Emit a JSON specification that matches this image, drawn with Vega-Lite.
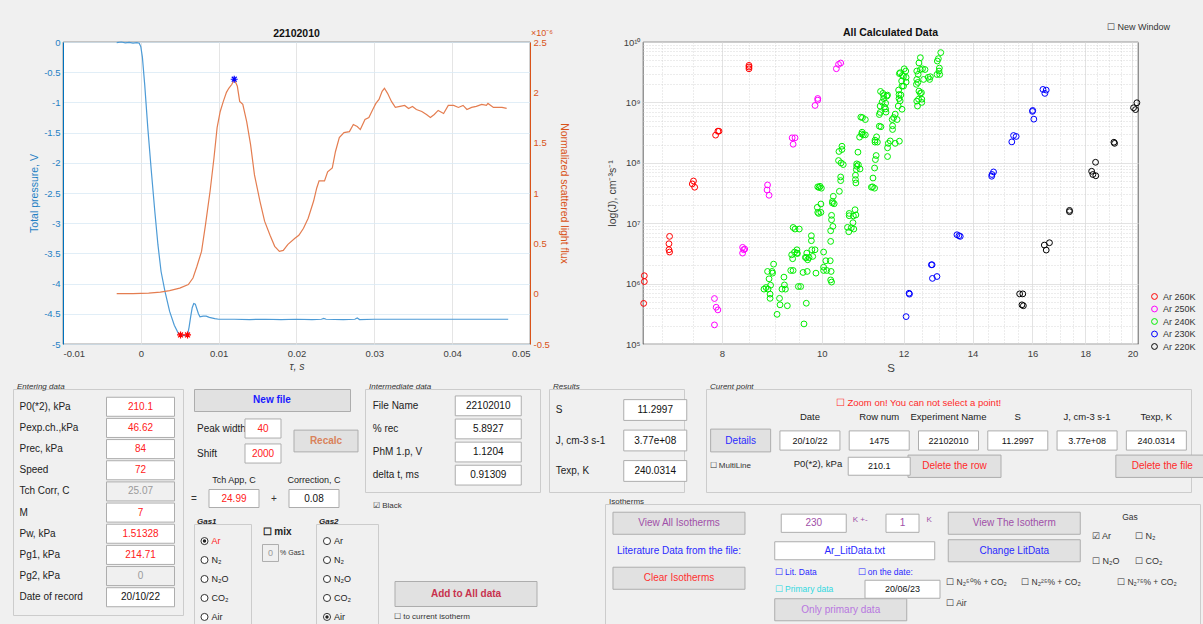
{
"$schema": "https://vega.github.io/schema/vega-lite/v6.json",
"background": "#f0f0f0",
"padding": {"left": 12, "top": 22, "right": 0, "bottom": 0},
"config": {
  "font": "Liberation Sans",
  "view": {"stroke": null},
  "point": {"opacity": 1},
  "axis": {"ticks": false, "domain": false, "labelFontSize": 9.5, "titleFontSize": 10.5, "titleFontWeight": "normal", "labelColor": "#404040", "titleColor": "#404040", "gridColor": "#dfdfdf", "gridWidth": 0.8},
  "title": {"font": "Liberation Sans", "fontSize": 10.5, "fontWeight": "bold", "color": "#111111"}
},
"datasets": {
  "pressure": [{"t":-0.0031,"p":-0.01},{"t":-0.0025,"p":0.0},{"t":-0.002,"p":-0.015},{"t":-0.0015,"p":-0.005},{"t":-0.001,"p":-0.02},{"t":-0.0005,"p":-0.01},{"t":-0.0002,"p":-0.02},{"t":0.0,"p":-0.08},{"t":0.0002,"p":-0.25},{"t":0.0005,"p":-0.71},{"t":0.0009,"p":-1.43},{"t":0.00135,"p":-2.14},{"t":0.0018,"p":-2.81},{"t":0.0022,"p":-3.36},{"t":0.0026,"p":-3.8},{"t":0.0031,"p":-4.13},{"t":0.0037,"p":-4.46},{"t":0.0043,"p":-4.69},{"t":0.0048,"p":-4.82},{"t":0.0051,"p":-4.85},{"t":0.0056,"p":-4.86},{"t":0.006,"p":-4.85},{"t":0.0062,"p":-4.72},{"t":0.0064,"p":-4.55},{"t":0.0066,"p":-4.4},{"t":0.0068,"p":-4.33},{"t":0.007,"p":-4.34},{"t":0.0072,"p":-4.42},{"t":0.0074,"p":-4.5},{"t":0.0076,"p":-4.55},{"t":0.008,"p":-4.54},{"t":0.0084,"p":-4.54},{"t":0.0088,"p":-4.56},{"t":0.0095,"p":-4.58},{"t":0.01,"p":-4.59},{"t":0.012,"p":-4.59},{"t":0.014,"p":-4.595},{"t":0.016,"p":-4.59},{"t":0.018,"p":-4.595},{"t":0.02,"p":-4.59},{"t":0.022,"p":-4.595},{"t":0.0232,"p":-4.59},{"t":0.0235,"p":-4.575},{"t":0.0238,"p":-4.59},{"t":0.026,"p":-4.595},{"t":0.0275,"p":-4.59},{"t":0.0278,"p":-4.57},{"t":0.0281,"p":-4.595},{"t":0.03,"p":-4.59},{"t":0.035,"p":-4.59},{"t":0.04,"p":-4.59},{"t":0.045,"p":-4.59},{"t":0.0472,"p":-4.59}],
  "flux": [{"t":-0.0031,"f":0.0},{"t":-0.001,"f":0.0},{"t":0.001,"f":0.005},{"t":0.0025,"f":0.015},{"t":0.0037,"f":0.03},{"t":0.005,"f":0.055},{"t":0.0061,"f":0.09},{"t":0.0067,"f":0.155},{"t":0.0072,"f":0.27},{"t":0.0078,"f":0.42},{"t":0.0083,"f":0.68},{"t":0.0089,"f":1.02},{"t":0.0094,"f":1.35},{"t":0.0098,"f":1.65},{"t":0.0102,"f":1.81},{"t":0.0106,"f":1.91},{"t":0.011,"f":2.0},{"t":0.0113,"f":2.04},{"t":0.0117,"f":2.08},{"t":0.012,"f":2.13},{"t":0.0124,"f":2.06},{"t":0.0127,"f":1.91},{"t":0.0131,"f":1.88},{"t":0.0136,"f":1.71},{"t":0.0141,"f":1.48},{"t":0.0146,"f":1.18},{"t":0.0153,"f":0.92},{"t":0.0159,"f":0.72},{"t":0.0166,"f":0.58},{"t":0.0172,"f":0.47},{"t":0.0178,"f":0.42},{"t":0.0183,"f":0.43},{"t":0.0189,"f":0.49},{"t":0.0198,"f":0.55},{"t":0.0203,"f":0.58},{"t":0.0209,"f":0.65},{"t":0.0215,"f":0.75},{"t":0.0222,"f":0.92},{"t":0.0226,"f":1.05},{"t":0.0229,"f":1.12},{"t":0.0236,"f":1.12},{"t":0.024,"f":1.21},{"t":0.0246,"f":1.25},{"t":0.025,"f":1.41},{"t":0.0255,"f":1.55},{"t":0.0261,"f":1.6},{"t":0.0268,"f":1.61},{"t":0.0273,"f":1.68},{"t":0.0278,"f":1.66},{"t":0.0282,"f":1.63},{"t":0.0288,"f":1.73},{"t":0.0293,"f":1.75},{"t":0.0298,"f":1.83},{"t":0.0302,"f":1.89},{"t":0.0306,"f":1.93},{"t":0.031,"f":2.01},{"t":0.0313,"f":2.04},{"t":0.0317,"f":1.99},{"t":0.0322,"f":1.91},{"t":0.0327,"f":1.85},{"t":0.0333,"f":1.86},{"t":0.0339,"f":1.87},{"t":0.0344,"f":1.84},{"t":0.0349,"f":1.86},{"t":0.0354,"f":1.83},{"t":0.0361,"f":1.81},{"t":0.0367,"f":1.78},{"t":0.0372,"f":1.75},{"t":0.0377,"f":1.78},{"t":0.0382,"f":1.82},{"t":0.0389,"f":1.79},{"t":0.0395,"f":1.87},{"t":0.0402,"f":1.87},{"t":0.0408,"f":1.85},{"t":0.0414,"f":1.87},{"t":0.0419,"f":1.83},{"t":0.0425,"f":1.85},{"t":0.0431,"f":1.86},{"t":0.0438,"f":1.88},{"t":0.0444,"f":1.87},{"t":0.0446,"f":1.89},{"t":0.0453,"f":1.85},{"t":0.0459,"f":1.85},{"t":0.0464,"f":1.85},{"t":0.047,"f":1.84}],
  "rates": [
{"S":6.72,"J":4.7e5,"series":"Ar 260K"},{"S":6.73,"J":1.08e6,"series":"Ar 260K"},{"S":6.73,"J":1.35e6,"series":"Ar 260K"},{"S":7.11,"J":4.57e6,"series":"Ar 260K"},{"S":7.11,"J":3.64e6,"series":"Ar 260K"},{"S":7.12,"J":3.33e6,"series":"Ar 260K"},{"S":7.12,"J":6.05e6,"series":"Ar 260K"},{"S":7.49,"J":4.47e7,"series":"Ar 260K"},{"S":7.51,"J":5.0e7,"series":"Ar 260K"},{"S":7.53,"J":3.94e7,"series":"Ar 260K"},{"S":7.89,"J":2.87e8,"series":"Ar 260K"},{"S":7.93,"J":3.34e8,"series":"Ar 260K"},{"S":7.95,"J":3.34e8,"series":"Ar 260K"},{"S":8.5,"J":3.85e9,"series":"Ar 260K"},{"S":8.5,"J":3.6e9,"series":"Ar 260K"},{"S":8.5,"J":4.1e9,"series":"Ar 260K"},
{"S":7.87,"J":5.66e5,"series":"Ar 250K"},{"S":7.9,"J":4.06e5,"series":"Ar 250K"},{"S":7.93,"J":3.67e5,"series":"Ar 250K"},{"S":7.87,"J":2.07e5,"series":"Ar 250K"},{"S":8.38,"J":3.98e6,"series":"Ar 250K"},{"S":8.4,"J":3.64e6,"series":"Ar 250K"},{"S":8.38,"J":3.2e6,"series":"Ar 250K"},{"S":8.42,"J":3.73e6,"series":"Ar 250K"},{"S":8.86,"J":4.3e7,"series":"Ar 250K"},{"S":8.85,"J":3.55e7,"series":"Ar 250K"},{"S":8.89,"J":2.9e7,"series":"Ar 250K"},{"S":9.36,"J":2.59e8,"series":"Ar 250K"},{"S":9.42,"J":2.59e8,"series":"Ar 250K"},{"S":9.38,"J":2.03e8,"series":"Ar 250K"},{"S":9.85,"J":8.9e8,"series":"Ar 250K"},{"S":9.91,"J":1.09e9,"series":"Ar 250K"},{"S":9.91,"J":1.16e9,"series":"Ar 250K"},{"S":10.33,"J":3.61e9,"series":"Ar 250K"},{"S":10.38,"J":4.26e9,"series":"Ar 250K"},{"S":10.43,"J":4.49e9,"series":"Ar 250K"},
{"S":8.79,"J":8.1e5,"series":"Ar 240K"},{"S":8.83,"J":8.6e5,"series":"Ar 240K"},{"S":8.87,"J":8.1e5,"series":"Ar 240K"},{"S":8.89,"J":1.2e6,"series":"Ar 240K"},{"S":8.92,"J":9.4e5,"series":"Ar 240K"},{"S":8.91,"J":6.7e5,"series":"Ar 240K"},{"S":8.91,"J":5.7e5,"series":"Ar 240K"},{"S":8.86,"J":1.59e6,"series":"Ar 240K"},{"S":8.95,"J":1.59e6,"series":"Ar 240K"},{"S":8.96,"J":1.49e6,"series":"Ar 240K"},{"S":8.98,"J":2.1e6,"series":"Ar 240K"},{"S":9.05,"J":3.1e5,"series":"Ar 240K"},{"S":9.1,"J":5.7e5,"series":"Ar 240K"},{"S":9.11,"J":4.45e5,"series":"Ar 240K"},{"S":9.15,"J":8.1e5,"series":"Ar 240K"},{"S":9.19,"J":1.28e6,"series":"Ar 240K"},{"S":9.2,"J":9.5e5,"series":"Ar 240K"},{"S":9.22,"J":8.1e5,"series":"Ar 240K"},{"S":9.26,"J":4.3e5,"series":"Ar 240K"},{"S":9.33,"J":1.65e6,"series":"Ar 240K"},{"S":9.38,"J":1.65e6,"series":"Ar 240K"},{"S":9.35,"J":3.0e6,"series":"Ar 240K"},{"S":9.37,"J":2.58e6,"series":"Ar 240K"},{"S":9.41,"J":3.33e6,"series":"Ar 240K"},{"S":9.46,"J":3.2e6,"series":"Ar 240K"},{"S":9.47,"J":3.15e6,"series":"Ar 240K"},{"S":9.42,"J":8.0e6,"series":"Ar 240K"},{"S":9.38,"J":8.5e6,"series":"Ar 240K"},{"S":9.51,"J":8.0e6,"series":"Ar 240K"},{"S":9.46,"J":3.63e6,"series":"Ar 240K"},{"S":9.49,"J":8.95e5,"series":"Ar 240K"},{"S":9.54,"J":8.95e5,"series":"Ar 240K"},{"S":9.59,"J":1.53e6,"series":"Ar 240K"},{"S":9.61,"J":2.15e5,"series":"Ar 240K"},{"S":9.64,"J":2.71e6,"series":"Ar 240K"},{"S":9.66,"J":2.7e6,"series":"Ar 240K"},{"S":9.67,"J":3.2e6,"series":"Ar 240K"},{"S":9.68,"J":1.59e6,"series":"Ar 240K"},{"S":9.69,"J":2.48e6,"series":"Ar 240K"},{"S":9.72,"J":2.7e6,"series":"Ar 240K"},{"S":9.77,"J":5.13e6,"series":"Ar 240K"},{"S":9.77,"J":6.2e6,"series":"Ar 240K"},{"S":9.78,"J":3.63e6,"series":"Ar 240K"},{"S":9.8,"J":2.82e6,"series":"Ar 240K"},{"S":9.85,"J":3.63e6,"series":"Ar 240K"},{"S":9.87,"J":1.49e6,"series":"Ar 240K"},{"S":9.66,"J":4.73e5,"series":"Ar 240K"},{"S":9.9,"J":1.83e7,"series":"Ar 240K"},{"S":9.91,"J":1.51e7,"series":"Ar 240K"},{"S":9.93,"J":1.45e7,"series":"Ar 240K"},{"S":9.96,"J":4.08e7,"series":"Ar 240K"},{"S":9.94,"J":3.9e7,"series":"Ar 240K"},{"S":9.91,"J":4.0e7,"series":"Ar 240K"},{"S":9.99,"J":3.8e7,"series":"Ar 240K"},{"S":9.98,"J":2.08e7,"series":"Ar 240K"},{"S":9.98,"J":1.51e7,"series":"Ar 240K"},{"S":10.04,"J":1.65e6,"series":"Ar 240K"},{"S":10.04,"J":1.87e6,"series":"Ar 240K"},{"S":10.04,"J":3.33e6,"series":"Ar 240K"},{"S":10.09,"J":2.39e6,"series":"Ar 240K"},{"S":10.11,"J":1.65e6,"series":"Ar 240K"},{"S":10.19,"J":2.39e6,"series":"Ar 240K"},{"S":10.2,"J":7.5e6,"series":"Ar 240K"},{"S":10.22,"J":1.14e7,"series":"Ar 240K"},{"S":10.22,"J":1.35e7,"series":"Ar 240K"},{"S":10.25,"J":8.86e6,"series":"Ar 240K"},{"S":10.24,"J":2.16e7,"series":"Ar 240K"},{"S":10.26,"J":2.79e7,"series":"Ar 240K"},{"S":10.24,"J":2.3e7,"series":"Ar 240K"},{"S":10.28,"J":2.1e7,"series":"Ar 240K"},{"S":10.2,"J":5.0e6,"series":"Ar 240K"},{"S":10.21,"J":1.59e6,"series":"Ar 240K"},{"S":10.2,"J":1.15e6,"series":"Ar 240K"},{"S":10.22,"J":1.06e6,"series":"Ar 240K"},{"S":10.38,"J":1.09e8,"series":"Ar 240K"},{"S":10.4,"J":3.37e7,"series":"Ar 240K"},{"S":10.43,"J":5.07e7,"series":"Ar 240K"},{"S":10.43,"J":5.83e7,"series":"Ar 240K"},{"S":10.44,"J":9.96e7,"series":"Ar 240K"},{"S":10.46,"J":1.66e8,"series":"Ar 240K"},{"S":10.46,"J":1.88e8,"series":"Ar 240K"},{"S":10.49,"J":9.35e7,"series":"Ar 240K"},{"S":10.39,"J":1.54e8,"series":"Ar 240K"},{"S":10.59,"J":8.53e6,"series":"Ar 240K"},{"S":10.62,"J":7.22e6,"series":"Ar 240K"},{"S":10.63,"J":1.45e7,"series":"Ar 240K"},{"S":10.63,"J":1.33e7,"series":"Ar 240K"},{"S":10.68,"J":8.4e6,"series":"Ar 240K"},{"S":10.72,"J":1.02e7,"series":"Ar 240K"},{"S":10.74,"J":8.0e6,"series":"Ar 240K"},{"S":10.73,"J":1.32e7,"series":"Ar 240K"},{"S":10.77,"J":1.67e7,"series":"Ar 240K"},{"S":10.79,"J":1.37e7,"series":"Ar 240K"},{"S":10.78,"J":5.27e7,"series":"Ar 240K"},{"S":10.78,"J":6.22e7,"series":"Ar 240K"},{"S":10.8,"J":7.72e7,"series":"Ar 240K"},{"S":10.81,"J":8.77e7,"series":"Ar 240K"},{"S":10.81,"J":9.6e7,"series":"Ar 240K"},{"S":10.85,"J":9.3e7,"series":"Ar 240K"},{"S":10.89,"J":7.9e7,"series":"Ar 240K"},{"S":10.84,"J":1.5e8,"series":"Ar 240K"},{"S":10.79,"J":4.64e7,"series":"Ar 240K"},{"S":10.88,"J":2.66e8,"series":"Ar 240K"},{"S":10.94,"J":3.21e8,"series":"Ar 240K"},{"S":10.93,"J":3.0e8,"series":"Ar 240K"},{"S":10.97,"J":2.9e8,"series":"Ar 240K"},{"S":10.95,"J":5.6e8,"series":"Ar 240K"},{"S":11.02,"J":5.2e8,"series":"Ar 240K"},{"S":11.02,"J":2.9e8,"series":"Ar 240K"},{"S":10.91,"J":5.7e8,"series":"Ar 240K"},{"S":11.17,"J":3.94e7,"series":"Ar 240K"},{"S":11.2,"J":4.0e7,"series":"Ar 240K"},{"S":11.25,"J":3.8e7,"series":"Ar 240K"},{"S":11.21,"J":5.6e7,"series":"Ar 240K"},{"S":11.25,"J":8.2e7,"series":"Ar 240K"},{"S":11.27,"J":1.13e8,"series":"Ar 240K"},{"S":11.29,"J":1.32e8,"series":"Ar 240K"},{"S":11.26,"J":2.37e8,"series":"Ar 240K"},{"S":11.3,"J":2.69e8,"series":"Ar 240K"},{"S":11.26,"J":2.2e8,"series":"Ar 240K"},{"S":11.32,"J":2.2e8,"series":"Ar 240K"},{"S":11.37,"J":4.04e8,"series":"Ar 240K"},{"S":11.41,"J":3.95e8,"series":"Ar 240K"},{"S":11.39,"J":6.82e8,"series":"Ar 240K"},{"S":11.37,"J":6.3e8,"series":"Ar 240K"},{"S":11.39,"J":8.7e8,"series":"Ar 240K"},{"S":11.44,"J":1.01e9,"series":"Ar 240K"},{"S":11.48,"J":1.16e9,"series":"Ar 240K"},{"S":11.48,"J":1.3e9,"series":"Ar 240K"},{"S":11.4,"J":1.52e9,"series":"Ar 240K"},{"S":11.46,"J":1.41e9,"series":"Ar 240K"},{"S":11.5,"J":8.36e8,"series":"Ar 240K"},{"S":11.53,"J":9.7e8,"series":"Ar 240K"},{"S":11.54,"J":6.9e8,"series":"Ar 240K"},{"S":11.56,"J":1.27e9,"series":"Ar 240K"},{"S":11.58,"J":1.32e9,"series":"Ar 240K"},{"S":11.53,"J":7.8e8,"series":"Ar 240K"},{"S":11.58,"J":1.27e8,"series":"Ar 240K"},{"S":11.58,"J":1.77e8,"series":"Ar 240K"},{"S":11.6,"J":2.1e8,"series":"Ar 240K"},{"S":11.65,"J":2.3e8,"series":"Ar 240K"},{"S":11.71,"J":3.56e8,"series":"Ar 240K"},{"S":11.7,"J":5.2e8,"series":"Ar 240K"},{"S":11.71,"J":4.1e8,"series":"Ar 240K"},{"S":11.74,"J":5.6e8,"series":"Ar 240K"},{"S":11.78,"J":6.4e8,"series":"Ar 240K"},{"S":11.83,"J":5.2e8,"series":"Ar 240K"},{"S":11.86,"J":8.7e8,"series":"Ar 240K"},{"S":11.88,"J":1.16e9,"series":"Ar 240K"},{"S":11.91,"J":1.06e9,"series":"Ar 240K"},{"S":11.93,"J":1.33e9,"series":"Ar 240K"},{"S":11.87,"J":1.6e9,"series":"Ar 240K"},{"S":11.88,"J":1.35e9,"series":"Ar 240K"},{"S":11.96,"J":7.7e8,"series":"Ar 240K"},{"S":11.96,"J":1.86e9,"series":"Ar 240K"},{"S":11.97,"J":2.8e9,"series":"Ar 240K"},{"S":11.91,"J":3.1e9,"series":"Ar 240K"},{"S":11.89,"J":3.0e9,"series":"Ar 240K"},{"S":11.78,"J":2.1e8,"series":"Ar 240K"},{"S":11.89,"J":2.28e8,"series":"Ar 240K"},{"S":11.95,"J":2.26e9,"series":"Ar 240K"},{"S":12.0,"J":1.86e9,"series":"Ar 240K"},{"S":12.02,"J":3.6e9,"series":"Ar 240K"},{"S":12.06,"J":3.3e9,"series":"Ar 240K"},{"S":12.07,"J":2.6e9,"series":"Ar 240K"},{"S":12.07,"J":2.17e9,"series":"Ar 240K"},{"S":12.0,"J":2.7e9,"series":"Ar 240K"},{"S":12.36,"J":3.3e9,"series":"Ar 240K"},{"S":12.4,"J":2.91e9,"series":"Ar 240K"},{"S":12.46,"J":3.5e9,"series":"Ar 240K"},{"S":12.52,"J":3.6e9,"series":"Ar 240K"},{"S":12.59,"J":3.5e9,"series":"Ar 240K"},{"S":12.42,"J":4.5e9,"series":"Ar 240K"},{"S":12.46,"J":5.5e9,"series":"Ar 240K"},{"S":12.36,"J":2.4e9,"series":"Ar 240K"},{"S":12.39,"J":2.14e9,"series":"Ar 240K"},{"S":12.35,"J":1.99e9,"series":"Ar 240K"},{"S":12.36,"J":1.05e9,"series":"Ar 240K"},{"S":12.38,"J":8.7e8,"series":"Ar 240K"},{"S":12.41,"J":1.13e9,"series":"Ar 240K"},{"S":12.42,"J":1.54e9,"series":"Ar 240K"},{"S":12.46,"J":1.41e9,"series":"Ar 240K"},{"S":12.5,"J":1.13e9,"series":"Ar 240K"},{"S":12.5,"J":1.0e9,"series":"Ar 240K"},{"S":12.49,"J":1.45e9,"series":"Ar 240K"},{"S":12.55,"J":2.4e9,"series":"Ar 240K"},{"S":12.68,"J":2.6e9,"series":"Ar 240K"},{"S":12.72,"J":2.4e9,"series":"Ar 240K"},{"S":12.74,"J":2.66e9,"series":"Ar 240K"},{"S":12.94,"J":4.84e9,"series":"Ar 240K"},{"S":12.97,"J":5.3e9,"series":"Ar 240K"},{"S":13.0,"J":3.7e9,"series":"Ar 240K"},{"S":12.99,"J":3.3e9,"series":"Ar 240K"},{"S":13.01,"J":2.9e9,"series":"Ar 240K"},{"S":12.93,"J":2.9e9,"series":"Ar 240K"},{"S":13.04,"J":6.67e9,"series":"Ar 240K"},
{"S":12.07,"J":2.84e5,"series":"Ar 230K"},{"S":12.15,"J":6.93e5,"series":"Ar 230K"},{"S":12.16,"J":6.7e5,"series":"Ar 230K"},{"S":12.77,"J":2.05e6,"series":"Ar 230K"},{"S":12.79,"J":2.05e6,"series":"Ar 230K"},{"S":12.8,"J":1.22e6,"series":"Ar 230K"},{"S":12.93,"J":1.31e6,"series":"Ar 230K"},{"S":13.52,"J":6.44e6,"series":"Ar 230K"},{"S":13.58,"J":6.2e6,"series":"Ar 230K"},{"S":13.62,"J":6.05e6,"series":"Ar 230K"},{"S":14.61,"J":5.99e7,"series":"Ar 230K"},{"S":14.67,"J":7.06e7,"series":"Ar 230K"},{"S":14.62,"J":6.4e7,"series":"Ar 230K"},{"S":15.28,"J":2.22e8,"series":"Ar 230K"},{"S":15.34,"J":2.83e8,"series":"Ar 230K"},{"S":15.43,"J":2.73e8,"series":"Ar 230K"},{"S":16.01,"J":7.36e8,"series":"Ar 230K"},{"S":16.0,"J":7.1e8,"series":"Ar 230K"},{"S":16.05,"J":5.28e8,"series":"Ar 230K"},{"S":16.38,"J":1.64e9,"series":"Ar 230K"},{"S":16.5,"J":1.6e9,"series":"Ar 230K"},{"S":16.45,"J":1.41e9,"series":"Ar 230K"},
{"S":15.55,"J":6.76e5,"series":"Ar 220K"},{"S":15.66,"J":6.76e5,"series":"Ar 220K"},{"S":15.63,"J":4.45e5,"series":"Ar 220K"},{"S":15.68,"J":4.3e5,"series":"Ar 220K"},{"S":16.43,"J":4.34e6,"series":"Ar 220K"},{"S":16.62,"J":4.75e6,"series":"Ar 220K"},{"S":16.5,"J":3.59e6,"series":"Ar 220K"},{"S":17.38,"J":1.63e7,"series":"Ar 220K"},{"S":17.38,"J":1.55e7,"series":"Ar 220K"},{"S":18.26,"J":7.24e7,"series":"Ar 220K"},{"S":18.31,"J":6.4e7,"series":"Ar 220K"},{"S":18.43,"J":6.1e7,"series":"Ar 220K"},{"S":18.42,"J":1.02e8,"series":"Ar 220K"},{"S":19.19,"J":2.19e8,"series":"Ar 220K"},{"S":19.22,"J":2.1e8,"series":"Ar 220K"},{"S":20.05,"J":8.15e8,"series":"Ar 220K"},{"S":20.14,"J":7.6e8,"series":"Ar 220K"},{"S":20.2,"J":9.86e8,"series":"Ar 220K"}
  ]
},
"resolve": {"scale": {"color": "independent"}},
"vconcat": [
 {"hconcat": [
   {"width": 4, "height": 10, "data": {"values": [{"a": 1}]}, "mark": {"type": "text", "text": " "}},
   {"hconcat": [
     {
      "width": 467, "height": 302,
      "title": {"text": "22102010", "offset": -10},
      "view": {"fill": "#ffffff", "stroke": "#262626", "strokeWidth": 0.7},
      "layer": [
        {"layer": [
          {"data": {"name": "pressure"}, "mark": {"type": "line", "color": "#4d9bd6", "strokeWidth": 1.2},
           "encoding": {
             "x": {"field": "t", "type": "quantitative", "title": "τ, s", "scale": {"domain": [-0.01, 0.05], "nice": false},
                   "axis": {"values": [-0.01, 0, 0.01, 0.02, 0.03, 0.04, 0.05], "labelExpr": "replace(format(datum.value, '~g'), '−', '-')", "grid": true, "gridColor": "#dedede", "labelPadding": 4, "titlePadding": 4, "titleFontStyle": "italic"}},
             "y": {"field": "p", "type": "quantitative", "title": "Total pressure, V", "scale": {"domain": [-5, 0], "nice": false},
                   "axis": {"values": [-5, -4.5, -4, -3.5, -3, -2.5, -2, -1.5, -1, -0.5, 0], "labelExpr": "replace(format(datum.value, '~g'), '−', '-')", "grid": true, "gridColor": "#d9eaf5", "labelColor": "#1f7fc4", "titleColor": "#1f7fc4", "domain": true, "domainColor": "#0072bd", "labelPadding": 3, "titlePadding": 4}}
           }},
          {"data": {"values": [{"t": 0.0051, "p": -4.85}, {"t": 0.006, "p": -4.85}]},
           "mark": {"type": "point", "shape": "M-1,0L1,0M0,-1L0,1M-0.7,-0.7L0.7,0.7M-0.7,0.7L0.7,-0.7", "filled": false, "color": "#ff0000", "size": 49, "strokeWidth": 1.2, "opacity": 1},
           "encoding": {
             "x": {"field": "t", "type": "quantitative", "title": "τ, s",
                   "axis": {"values": [-0.01, 0, 0.01, 0.02, 0.03, 0.04, 0.05], "labelExpr": "replace(format(datum.value, '~g'), '−', '-')", "grid": true, "gridColor": "#dedede", "labelPadding": 4, "titlePadding": 4, "titleFontStyle": "italic"}},
             "y": {"field": "p", "type": "quantitative", "title": "Total pressure, V",
                   "axis": {"values": [-5, -4.5, -4, -3.5, -3, -2.5, -2, -1.5, -1, -0.5, 0], "labelExpr": "replace(format(datum.value, '~g'), '−', '-')", "grid": true, "gridColor": "#d9eaf5", "labelColor": "#1f7fc4", "titleColor": "#1f7fc4", "domain": true, "domainColor": "#0072bd", "labelPadding": 3, "titlePadding": 4}}
           }}
        ]},
        {"layer": [
          {"data": {"name": "flux"}, "mark": {"type": "line", "color": "#e47d50", "strokeWidth": 1.2},
           "encoding": {
             "x": {"field": "t", "type": "quantitative", "title": "τ, s",
                   "axis": {"values": [-0.01, 0, 0.01, 0.02, 0.03, 0.04, 0.05], "labelExpr": "replace(format(datum.value, '~g'), '−', '-')", "grid": true, "gridColor": "#dedede", "labelPadding": 4, "titlePadding": 4, "titleFontStyle": "italic"}},
             "y": {"field": "f", "type": "quantitative", "title": "Normalized scattered light flux", "scale": {"domain": [-0.5, 2.5], "nice": false},
                   "axis": {"orient": "right", "values": [-0.5, 0, 0.5, 1, 1.5, 2, 2.5], "labelExpr": "replace(format(datum.value, '~g'), '−', '-')", "grid": false, "labelColor": "#d95319", "titleColor": "#d95319", "domain": true, "domainColor": "#d95319", "labelPadding": 3, "titlePadding": 9}}
           }},
          {"data": {"values": [{"t": 0.012, "f": 2.13}]},
           "mark": {"type": "point", "shape": "M-1,0L1,0M0,-1L0,1M-0.7,-0.7L0.7,0.7M-0.7,0.7L0.7,-0.7", "filled": false, "color": "#0000ff", "size": 49, "strokeWidth": 1.2, "opacity": 1},
           "encoding": {
             "x": {"field": "t", "type": "quantitative", "title": "τ, s",
                   "axis": {"values": [-0.01, 0, 0.01, 0.02, 0.03, 0.04, 0.05], "labelExpr": "replace(format(datum.value, '~g'), '−', '-')", "grid": true, "gridColor": "#dedede", "labelPadding": 4, "titlePadding": 4, "titleFontStyle": "italic"}},
             "y": {"field": "f", "type": "quantitative", "title": "Normalized scattered light flux",
                   "axis": {"orient": "right", "values": [-0.5, 0, 0.5, 1, 1.5, 2, 2.5], "labelExpr": "replace(format(datum.value, '~g'), '−', '-')", "grid": false, "labelColor": "#d95319", "titleColor": "#d95319", "domain": true, "domainColor": "#d95319", "labelPadding": 3, "titlePadding": 9}}
           }},
          {"data": {"values": [{"t": 0.05, "f": 2.5, "note": "×10⁻⁶"}]},
           "mark": {"type": "text", "color": "#d95319", "fontSize": 9, "align": "left", "dx": 1, "dy": -9},
           "encoding": {
             "x": {"field": "t", "type": "quantitative", "title": "τ, s",
                   "axis": {"values": [-0.01, 0, 0.01, 0.02, 0.03, 0.04, 0.05], "labelExpr": "replace(format(datum.value, '~g'), '−', '-')", "grid": true, "gridColor": "#dedede", "labelPadding": 4, "titlePadding": 4, "titleFontStyle": "italic"}},
             "y": {"field": "f", "type": "quantitative", "title": "Normalized scattered light flux",
                   "axis": {"orient": "right", "values": [-0.5, 0, 0.5, 1, 1.5, 2, 2.5], "labelExpr": "replace(format(datum.value, '~g'), '−', '-')", "grid": false, "labelColor": "#d95319", "titleColor": "#d95319", "domain": true, "domainColor": "#d95319", "labelPadding": 3, "titlePadding": 9}},
             "text": {"field": "note"}}}
        ]}
      ],
      "resolve": {"scale": {"y": "independent"}}
     },
     {
      "width": 495, "height": 302,
      "title": {"text": "All Calculated Data", "offset": -15},
      "view": {"fill": "#ffffff", "stroke": "#262626", "strokeWidth": 0.7},
      "data": {"name": "rates"},
      "layer": [
        {"mark": {"type": "point", "filled": false, "size": 34, "strokeWidth": 1, "opacity": 1},
         "encoding": {
           "x": {"field": "S", "type": "quantitative", "title": null, "scale": {"type": "log", "domain": [6.71, 20.25], "nice": false},
                 "axis": {"orient": "bottom", "values": [7, 7.5, 8.5, 9, 9.5, 10.5, 11, 11.5, 12.5, 13, 13.5, 14.5, 15, 15.5, 16.5, 17, 17.5, 18.5, 19, 19.5], "labels": false, "grid": true, "gridDash": [1, 2], "gridColor": "#cfcfcf", "title": null}},
           "y": {"field": "J", "type": "quantitative", "title": null, "scale": {"type": "log", "domain": [1e5, 1e10], "nice": false},
                 "axis": {"orient": "left", "values": [2e5,3e5,4e5,5e5,6e5,7e5,8e5,9e5,2e6,3e6,4e6,5e6,6e6,7e6,8e6,9e6,2e7,3e7,4e7,5e7,6e7,7e7,8e7,9e7,2e8,3e8,4e8,5e8,6e8,7e8,8e8,9e8,2e9,3e9,4e9,5e9,6e9,7e9,8e9,9e9], "labels": false, "grid": true, "gridDash": [1, 2], "gridColor": "#cfcfcf", "title": null}},
           "color": {"field": "series", "type": "nominal", "scale": {"domain": ["Ar 260K", "Ar 250K", "Ar 240K", "Ar 230K", "Ar 220K"], "range": ["#ff0000", "#ff00ff", "#00ee00", "#0000ff", "#000000"]},
                     "legend": {"orient": "none", "legendX": 507, "legendY": 250, "title": null, "labelFontSize": 9, "labelColor": "#333333", "symbolSize": 34, "symbolStrokeWidth": 1, "rowPadding": 1.5, "symbolType": "circle"}}
         }},
        {"mark": {"type": "point", "opacity": 0},
         "encoding": {
           "x": {"field": "S", "type": "quantitative", "title": "S",
                 "axis": {"orient": "bottom", "values": [8, 10, 12, 14, 16, 18, 20], "format": "d", "grid": true, "gridColor": "#dcdcdc", "labelPadding": 4, "titlePadding": 5, "titleFontSize": 11.5}},
           "y": {"field": "J", "type": "quantitative", "title": "log(J), cm⁻³s⁻¹",
                 "axis": {"orient": "left", "values": [1e5, 1e6, 1e7, 1e8, 1e9, 1e10], "labelExpr": "datum.value >= 9.9e9 ? '10¹⁰' : datum.value >= 9.9e8 ? '10⁹' : datum.value >= 9.9e7 ? '10⁸' : datum.value >= 9.9e6 ? '10⁷' : datum.value >= 9.9e5 ? '10⁶' : '10⁵'", "grid": true, "gridColor": "#dcdcdc", "labelPadding": 3, "titlePadding": 6}}
         }},
        {"data": {"values": [{"label": "☐ New Window"}]},
         "mark": {"type": "text", "align": "left", "fontSize": 9, "color": "#333333", "dy": -15},
         "encoding": {"x": {"datum": 18.9, "type": "quantitative", "axis": null}, "y": {"datum": 1e10, "type": "quantitative", "axis": null}, "text": {"field": "label"}}}
      ],
      "resolve": {"axis": {"x": "independent", "y": "independent"}}
     }
   ], "spacing": 37, "resolve": {"scale": {"color": "independent"}}}
 ], "spacing": 12, "resolve": {"scale": {"color": "independent"}}},
 {"hconcat": [
   {
    "width": 170, "height": 226,
    "title": {"text": "Entering data", "anchor": "start", "fontSize": 8, "fontStyle": "italic", "fontWeight": "normal", "color": "#333333", "offset": -6, "baseline": "middle", "dx": 4},
    "view": {"stroke": "#cccccc"},
    "data": {"values": [
      {"label": "P0(*2), kPa", "value": "210.1", "state": "input"},
      {"label": "Pexp.ch.,kPa", "value": "46.62", "state": "input"},
      {"label": "Prec, kPa", "value": "84", "state": "input"},
      {"label": "Speed", "value": "72", "state": "input"},
      {"label": "Tch Corr, C", "value": "25.07", "state": "readonly"},
      {"label": "M", "value": "7", "state": "input"},
      {"label": "Pw, kPa", "value": "1.51328", "state": "input"},
      {"label": "Pg1, kPa", "value": "214.71", "state": "input"},
      {"label": "Pg2, kPa", "value": "0", "state": "readonly"},
      {"label": "Date of record", "value": "20/10/22", "state": "plain"}
    ]},
    "encoding": {"y": {"field": "label", "type": "nominal", "sort": null, "axis": null, "scale": {"padding": 0.84}}},
    "layer": [
      {"mark": {"type": "text", "align": "left", "fontSize": 10, "color": "#222222", "dx": -36},
       "encoding": {"x": {"datum": "label", "type": "nominal", "scale": {"domain": ["label", "value"], "padding": 0.5}, "axis": null}, "text": {"field": "label"}}},
      {"mark": {"type": "point", "shape": "M-1,-0.28L1,-0.28L1,0.28L-1,0.28Z", "size": 4624, "filled": true, "opacity": 1, "stroke": "#adadad", "strokeWidth": 1},
       "encoding": {"x": {"datum": "value", "type": "nominal", "axis": null}, "fill": {"condition": {"test": "datum.state == 'readonly'", "value": "#f0f0f0"}, "value": "#ffffff"}}},
      {"mark": {"type": "text", "fontSize": 10},
       "encoding": {"x": {"datum": "value", "type": "nominal", "axis": null}, "text": {"field": "value"}, "color": {"condition": [{"test": "datum.state == 'input'", "value": "#ff2020"}, {"test": "datum.state == 'readonly'", "value": "#9a9a9a"}], "value": "#111111"}}}
    ]
   },
   {"vconcat": [
     {"hconcat": [
       {"vconcat": [
         {"width": 156, "height": 22, "view": {"fill": "#e1e1e1", "stroke": "#adadad"}, "data": {"values": [{"label": "New file"}]}, "mark": {"type": "text", "color": "#1a1aff", "fontWeight": "bold", "fontSize": 10}, "encoding": {"text": {"field": "label"}}},
         {"hconcat": [
           {"width": 92, "height": 48,
            "data": {"values": [{"label": "Peak width", "value": "40"}, {"label": "Shift", "value": "2000"}]},
            "encoding": {"y": {"field": "label", "type": "nominal", "sort": null, "axis": null, "scale": {"padding": 0.46}}},
            "layer": [
              {"mark": {"type": "text", "align": "left", "fontSize": 10, "color": "#222222", "dx": -20},
               "encoding": {"x": {"datum": "label", "type": "nominal", "scale": {"domain": ["label", "value"], "padding": 0.5}, "axis": null}, "text": {"field": "label"}}},
              {"mark": {"type": "point", "shape": "M-1,-0.53L1,-0.53L1,0.53L-1,0.53Z", "size": 1296, "filled": true, "opacity": 1, "fill": "#ffffff", "stroke": "#adadad", "strokeWidth": 1},
               "encoding": {"x": {"datum": "value", "type": "nominal", "axis": null}}},
              {"mark": {"type": "text", "fontSize": 10, "color": "#ff2020"},
               "encoding": {"x": {"datum": "value", "type": "nominal", "axis": null}, "text": {"field": "value"}}}
            ]},
           {"width": 64, "height": 48,
            "data": {"values": [{"label": "Recalc"}]},
            "layer": [
              {"mark": {"type": "point", "shape": "M-1,-0.34L1,-0.34L1,0.34L-1,0.34Z", "size": 4096, "filled": true, "opacity": 1, "fill": "#e1e1e1", "stroke": "#adadad", "strokeWidth": 1}},
              {"mark": {"type": "text", "fontSize": 10, "fontWeight": "bold", "color": "#d9825b"}, "encoding": {"text": {"field": "label"}}}
            ]}
         ], "spacing": 6},
         {"width": 160, "height": 38,
          "layer": [
            {"data": {"values": [{"col": "Tch App, C"}, {"col": "Correction, C"}]},
             "mark": {"type": "text", "fontSize": 9, "color": "#222222"},
             "encoding": {"x": {"field": "col", "type": "nominal", "scale": {"domain": ["Tch App, C", "Correction, C"], "padding": 0.5}, "axis": null}, "y": {"datum": "header", "type": "nominal", "scale": {"domain": ["header", "box"], "padding": 0.5}, "axis": null}, "text": {"field": "col"}}},
            {"data": {"values": [{"col": "Tch App, C", "sign": "="}, {"col": "Correction, C", "sign": "+"}]},
             "mark": {"type": "text", "fontSize": 10, "color": "#333333", "dx": -40},
             "encoding": {"x": {"field": "col", "type": "nominal", "axis": null}, "y": {"datum": "box", "type": "nominal", "axis": null}, "text": {"field": "sign"}}},
            {"data": {"values": [{"col": "Tch App, C", "value": "24.99", "state": "input"}, {"col": "Correction, C", "value": "0.08", "state": "plain"}]},
             "layer": [
               {"mark": {"type": "point", "shape": "M-1,-0.36L1,-0.36L1,0.36L-1,0.36Z", "size": 2500, "filled": true, "opacity": 1, "fill": "#ffffff", "stroke": "#adadad", "strokeWidth": 1},
                "encoding": {"x": {"field": "col", "type": "nominal", "axis": null}, "y": {"datum": "box", "type": "nominal", "axis": null}}},
               {"mark": {"type": "text", "fontSize": 10},
                "encoding": {"x": {"field": "col", "type": "nominal", "axis": null}, "y": {"datum": "box", "type": "nominal", "axis": null}, "text": {"field": "value"}, "color": {"condition": {"test": "datum.state == 'input'", "value": "#ff2020"}, "value": "#111111"}}}
             ]}
          ]}
       ], "spacing": 4},
       {"vconcat": [
         {"width": 175, "height": 103,
          "title": {"text": "Intermediate data", "anchor": "start", "fontSize": 8, "fontStyle": "italic", "fontWeight": "normal", "color": "#333333", "offset": -6, "baseline": "middle", "dx": 4},
          "view": {"stroke": "#cccccc"},
          "data": {"values": [{"label": "File Name", "value": "22102010"}, {"label": "% rec", "value": "5.8927"}, {"label": "PhM 1.p, V", "value": "1.1204"}, {"label": "delta t, ms", "value": "0.91309"}]},
          "encoding": {"y": {"field": "label", "type": "nominal", "sort": null, "axis": null, "scale": {"padding": 0.73}}},
          "layer": [
            {"mark": {"type": "text", "align": "left", "fontSize": 10, "color": "#222222", "dx": -36},
             "encoding": {"x": {"datum": "label", "type": "nominal", "scale": {"domain": ["label", "value"], "padding": 0.5}, "axis": null}, "text": {"field": "label"}}},
            {"mark": {"type": "point", "shape": "M-1,-0.3L1,-0.3L1,0.3L-1,0.3Z", "size": 4356, "filled": true, "opacity": 1, "fill": "#ffffff", "stroke": "#adadad", "strokeWidth": 1, "xOffset": -8},
             "encoding": {"x": {"datum": "value", "type": "nominal", "axis": null}}},
            {"mark": {"type": "text", "fontSize": 10, "color": "#111111", "xOffset": -8},
             "encoding": {"x": {"datum": "value", "type": "nominal", "axis": null}, "text": {"field": "value"}}}
          ]},
         {"width": 60, "height": 10, "data": {"values": [{"label": "☑ Black"}]}, "mark": {"type": "text", "align": "left", "fontSize": 8, "color": "#333333", "dx": -22}, "encoding": {"text": {"field": "label"}}}
       ], "spacing": 8}
     ], "spacing": 4},
     {"hconcat": [
       {"width": 57, "height": 110,
        "title": {"text": "Gas1", "anchor": "start", "fontSize": 8, "fontStyle": "italic", "fontWeight": "bold", "color": "#222222", "offset": -6, "baseline": "middle", "dx": 3},
        "view": {"stroke": "#cccccc"},
        "data": {"values": [{"gas": "Ar", "state": "selected"}, {"gas": "N₂", "state": "off"}, {"gas": "N₂O", "state": "off"}, {"gas": "CO₂", "state": "off"}, {"gas": "Air", "state": "off"}]},
        "encoding": {"y": {"field": "gas", "type": "nominal", "sort": null, "axis": null, "scale": {"padding": 0.9}}},
        "layer": [
          {"mark": {"type": "point", "shape": "circle", "size": 50, "filled": true, "opacity": 1, "fill": "#ffffff", "stroke": "#333333", "strokeWidth": 1, "xOffset": -18}},
          {"transform": [{"filter": "datum.state == 'selected'"}], "mark": {"type": "point", "shape": "circle", "size": 12, "filled": true, "opacity": 1, "fill": "#222222", "xOffset": -18}},
          {"mark": {"type": "text", "align": "left", "fontSize": 9, "dx": -11}, "encoding": {"text": {"field": "gas"}, "color": {"condition": {"test": "datum.state == 'selected'", "value": "#ff2020"}, "value": "#222222"}}}
        ]},
       {"width": 45, "height": 120,
        "layer": [
          {"data": {"values": [{"label": "☐ mix"}]}, "mark": {"type": "text", "align": "left", "fontWeight": "bold", "fontSize": 10, "color": "#222222", "dx": -22, "dy": -52}, "encoding": {"text": {"field": "label"}}},
          {"data": {"values": [{"value": "0"}]}, "layer": [
            {"mark": {"type": "point", "shape": "M-1,-1.06L1,-1.06L1,1.06L-1,1.06Z", "size": 256, "filled": true, "opacity": 1, "fill": "#f0f0f0", "stroke": "#adadad", "strokeWidth": 1, "xOffset": -14, "yOffset": -31}},
            {"mark": {"type": "text", "fontSize": 9, "color": "#9a9a9a", "dx": -14, "dy": -31}, "encoding": {"text": {"field": "value"}}}
          ]},
          {"data": {"values": [{"label": "% Gas1"}]}, "mark": {"type": "text", "fontSize": 7, "color": "#333333", "dx": 8, "dy": -31}, "encoding": {"text": {"field": "label"}}}
        ]},
       {"width": 62, "height": 110,
        "title": {"text": "Gas2", "anchor": "start", "fontSize": 8, "fontStyle": "italic", "fontWeight": "bold", "color": "#222222", "offset": -6, "baseline": "middle", "dx": 3},
        "view": {"stroke": "#cccccc"},
        "data": {"values": [{"gas": "Ar", "state": "off"}, {"gas": "N₂", "state": "off"}, {"gas": "N₂O", "state": "off"}, {"gas": "CO₂", "state": "off"}, {"gas": "Air", "state": "selected"}]},
        "encoding": {"y": {"field": "gas", "type": "nominal", "sort": null, "axis": null, "scale": {"padding": 0.9}}},
        "layer": [
          {"mark": {"type": "point", "shape": "circle", "size": 50, "filled": true, "opacity": 1, "fill": "#ffffff", "stroke": "#333333", "strokeWidth": 1, "xOffset": -20}},
          {"transform": [{"filter": "datum.state == 'selected'"}], "mark": {"type": "point", "shape": "circle", "size": 12, "filled": true, "opacity": 1, "fill": "#222222", "xOffset": -20}},
          {"mark": {"type": "text", "align": "left", "fontSize": 9, "color": "#222222", "dx": -13}, "encoding": {"text": {"field": "gas"}}}
        ]},
       {"width": 154, "height": 120,
        "layer": [
          {"data": {"values": [{"label": "Add to All data"}]}, "layer": [
            {"mark": {"type": "point", "shape": "M-1,-0.176L1,-0.176L1,0.176L-1,0.176Z", "size": 20164, "filled": true, "opacity": 1, "fill": "#e1e1e1", "stroke": "#adadad", "strokeWidth": 1, "xOffset": 2, "yOffset": 10}},
            {"mark": {"type": "text", "fontSize": 10, "fontWeight": "bold", "color": "#c8324e", "dx": 2, "dy": 10}, "encoding": {"text": {"field": "label"}}}
          ]},
          {"data": {"values": [{"label": "☐ to current isotherm"}]}, "mark": {"type": "text", "align": "left", "fontSize": 8, "color": "#333333", "dx": -70, "dy": 33}, "encoding": {"text": {"field": "label"}}}
        ]}
     ], "spacing": 8}
   ], "spacing": 6},
   {"vconcat": [
     {"hconcat": [
       {"width": 135, "height": 103,
        "title": {"text": "Results", "anchor": "start", "fontSize": 8, "fontStyle": "italic", "fontWeight": "normal", "color": "#333333", "offset": -6, "baseline": "middle", "dx": 4},
        "view": {"stroke": "#cccccc"},
        "data": {"values": [{"label": "S", "value": "11.2997"}, {"label": "J, cm-3 s-1", "value": "3.77e+08"}, {"label": "Texp, K", "value": "240.0314"}]},
        "encoding": {"y": {"field": "label", "type": "nominal", "sort": null, "axis": null, "scale": {"padding": 0.69}}},
        "layer": [
          {"mark": {"type": "text", "align": "left", "fontSize": 10, "color": "#222222", "dx": -27},
           "encoding": {"x": {"datum": "label", "type": "nominal", "scale": {"domain": ["label", "value"], "padding": 0.5}, "axis": null}, "text": {"field": "label"}}},
          {"mark": {"type": "point", "shape": "M-1,-0.33L1,-0.33L1,0.33L-1,0.33Z", "size": 3969, "filled": true, "opacity": 1, "fill": "#ffffff", "stroke": "#adadad", "strokeWidth": 1, "xOffset": 5},
           "encoding": {"x": {"datum": "value", "type": "nominal", "axis": null}}},
          {"mark": {"type": "text", "fontSize": 10, "color": "#111111", "dx": 5},
           "encoding": {"x": {"datum": "value", "type": "nominal", "axis": null}, "text": {"field": "value"}}}
        ]},
       {"width": 485, "height": 103,
        "title": {"text": "Curent point", "anchor": "start", "fontSize": 8, "fontStyle": "italic", "fontWeight": "normal", "color": "#333333", "offset": -6, "baseline": "middle", "dx": 4},
        "view": {"stroke": "#cccccc"},
        "layer": [
          {"data": {"values": [{"col": "Date"}, {"col": "Row num"}, {"col": "Experiment Name"}, {"col": "S"}, {"col": "J, cm-3 s-1"}, {"col": "Texp, K"}]},
           "mark": {"type": "text", "fontSize": 9.5, "color": "#222222", "dy": 2},
           "encoding": {"x": {"field": "col", "type": "nominal", "scale": {"domain": ["Details", "Date", "Row num", "Experiment Name", "S", "J, cm-3 s-1", "Texp, K"], "padding": 0.5}, "axis": null},
                        "y": {"datum": "Header", "type": "nominal", "scale": {"domain": ["Header", "Value", "Action"], "padding": 1}, "axis": null},
                        "text": {"field": "col"}}},
          {"data": {"values": [{"col": "Date", "value": "20/10/22"}, {"col": "Row num", "value": "1475"}, {"col": "Experiment Name", "value": "22102010"}, {"col": "S", "value": "11.2997"}, {"col": "J, cm-3 s-1", "value": "3.77e+08"}, {"col": "Texp, K", "value": "240.0314"}]},
           "layer": [
             {"mark": {"type": "point", "shape": "M-1,-0.32L1,-0.32L1,0.32L-1,0.32Z", "size": 3600, "filled": true, "opacity": 1, "fill": "#ffffff", "stroke": "#adadad", "strokeWidth": 1},
              "encoding": {"x": {"field": "col", "type": "nominal", "axis": null}, "y": {"datum": "Value", "type": "nominal", "axis": null}}},
             {"mark": {"type": "text", "fontSize": 9, "color": "#111111"},
              "encoding": {"x": {"field": "col", "type": "nominal", "axis": null}, "y": {"datum": "Value", "type": "nominal", "axis": null}, "text": {"field": "value"}}}
           ]},
          {"data": {"values": [{"col": "Details", "label": "Details"}]},
           "layer": [
             {"mark": {"type": "point", "shape": "M-1,-0.38L1,-0.38L1,0.38L-1,0.38Z", "size": 3600, "filled": true, "opacity": 1, "fill": "#e1e1e1", "stroke": "#adadad", "strokeWidth": 1},
              "encoding": {"x": {"field": "col", "type": "nominal", "axis": null}, "y": {"datum": "Value", "type": "nominal", "axis": null}}},
             {"mark": {"type": "text", "fontSize": 10, "color": "#2a2aff"},
              "encoding": {"x": {"field": "col", "type": "nominal", "axis": null}, "y": {"datum": "Value", "type": "nominal", "axis": null}, "text": {"field": "label"}}}
           ]},
          {"data": {"values": [{"col": "Experiment Name", "label": "Delete the row"}, {"col": "Texp, K", "label": "Delete the file"}]},
           "layer": [
             {"mark": {"type": "point", "shape": "M-1,-0.24L1,-0.24L1,0.24L-1,0.24Z", "size": 8649, "filled": true, "opacity": 1, "fill": "#e1e1e1", "stroke": "#adadad", "strokeWidth": 1, "xOffset": 6},
              "encoding": {"x": {"field": "col", "type": "nominal", "axis": null}, "y": {"datum": "Action", "type": "nominal", "axis": null}}},
             {"mark": {"type": "text", "fontSize": 10, "color": "#ff2a2a", "dx": 6},
              "encoding": {"x": {"field": "col", "type": "nominal", "axis": null}, "y": {"datum": "Action", "type": "nominal", "axis": null}, "text": {"field": "label"}}}
           ]},
          {"data": {"values": [{"col": "Row num", "value": "210.1"}]},
           "layer": [
             {"mark": {"type": "point", "shape": "M-1,-0.29L1,-0.29L1,0.29L-1,0.29Z", "size": 3844, "filled": true, "opacity": 1, "fill": "#ffffff", "stroke": "#adadad", "strokeWidth": 1},
              "encoding": {"x": {"field": "col", "type": "nominal", "axis": null}, "y": {"datum": "Action", "type": "nominal", "axis": null}}},
             {"mark": {"type": "text", "fontSize": 9, "color": "#111111"},
              "encoding": {"x": {"field": "col", "type": "nominal", "axis": null}, "y": {"datum": "Action", "type": "nominal", "axis": null}, "text": {"field": "value"}}}
           ]},
          {"data": {"values": [{"col": "Date", "label": "P0(*2), kPa"}]},
           "mark": {"type": "text", "fontSize": 9.5, "color": "#222222", "dx": 8, "dy": -2},
           "encoding": {"x": {"field": "col", "type": "nominal", "axis": null}, "y": {"datum": "Action", "type": "nominal", "axis": null}, "text": {"field": "label"}}},
          {"data": {"values": [{"col": "Details", "label": "☐ MultiLine"}]},
           "mark": {"type": "text", "align": "left", "fontSize": 8, "color": "#333333", "dx": -31},
           "encoding": {"x": {"field": "col", "type": "nominal", "axis": null}, "y": {"datum": "Action", "type": "nominal", "axis": null}, "text": {"field": "label"}}},
          {"data": {"values": [{"col": "Experiment Name", "label": "☐ Zoom on! You can not select a point!"}]},
           "mark": {"type": "text", "fontSize": 9.5, "color": "#ff2a2a", "dx": -30, "dy": -12},
           "encoding": {"x": {"field": "col", "type": "nominal", "axis": null}, "y": {"datum": "Header", "type": "nominal", "axis": null}, "text": {"field": "label"}}}
        ]}
     ], "spacing": 15},
     {"hconcat": [
       {"width": 45, "height": 10, "data": {"values": [{"a": 1}]}, "mark": {"type": "text", "text": " "}},
       {"width": 595, "height": 121,
        "title": {"text": "Isotherms", "anchor": "start", "fontSize": 8, "fontWeight": "normal", "color": "#333333", "offset": -6, "baseline": "middle", "dx": 4},
        "view": {"stroke": "#cccccc"},
        "layer": [
          {"data": {"values": [
             {"group": "Actions", "line": "L1", "label": "View All Isotherms", "tone": "purple"},
             {"group": "Actions", "line": "L3", "label": "Clear Isotherms", "tone": "red"},
             {"group": "Views", "line": "L1", "label": "View The Isotherm", "tone": "purple"},
             {"group": "Views", "line": "L2", "label": "Change LitData", "tone": "blue"}]},
           "layer": [
             {"mark": {"type": "point", "shape": "M-1,-0.167L1,-0.167L1,0.167L-1,0.167Z", "size": 17424, "filled": true, "opacity": 1, "fill": "#e1e1e1", "stroke": "#adadad", "strokeWidth": 1},
              "encoding": {"x": {"field": "group", "type": "nominal", "scale": {"domain": ["Actions", "Temperature", "Tolerance", "Views", "Gas"], "padding": 0.662}, "axis": null},
                           "y": {"field": "line", "type": "nominal", "scale": {"domain": ["L1", "L2", "L3", "L4"], "padding": 0.7}, "axis": null}}},
             {"mark": {"type": "text", "fontSize": 10},
              "encoding": {"x": {"field": "group", "type": "nominal", "axis": null}, "y": {"field": "line", "type": "nominal", "axis": null}, "text": {"field": "label"},
                           "color": {"condition": [{"test": "datum.tone == 'purple'", "value": "#a050a8"}, {"test": "datum.tone == 'red'", "value": "#ff3030"}], "value": "#2a2aff"}}}
           ]},
          {"data": {"values": [{"label": "Only primary data"}]},
           "layer": [
             {"mark": {"type": "point", "shape": "M-1,-0.167L1,-0.167L1,0.167L-1,0.167Z", "size": 17424, "filled": true, "opacity": 1, "fill": "#e1e1e1", "stroke": "#adadad", "strokeWidth": 1, "xOffset": 50, "yOffset": 4},
              "encoding": {"x": {"datum": "Temperature", "type": "nominal", "axis": null}, "y": {"datum": "L4", "type": "nominal", "axis": null}}},
             {"mark": {"type": "text", "fontSize": 10, "color": "#b877e0", "dx": 50, "dy": 4},
              "encoding": {"x": {"datum": "Temperature", "type": "nominal", "axis": null}, "y": {"datum": "L4", "type": "nominal", "axis": null}, "text": {"field": "label"}}}
           ]},
          {"data": {"values": [{"label": "230"}]},
           "layer": [
             {"mark": {"type": "point", "shape": "M-1,-0.28L1,-0.28L1,0.28L-1,0.28Z", "size": 4225, "filled": true, "opacity": 1, "fill": "#ffffff", "stroke": "#adadad", "strokeWidth": 1, "xOffset": 23},
              "encoding": {"x": {"datum": "Temperature", "type": "nominal", "axis": null}, "y": {"datum": "L1", "type": "nominal", "axis": null}}},
             {"mark": {"type": "text", "fontSize": 10, "color": "#a050a8", "dx": 23},
              "encoding": {"x": {"datum": "Temperature", "type": "nominal", "axis": null}, "y": {"datum": "L1", "type": "nominal", "axis": null}, "text": {"field": "label"}}}
           ]},
          {"data": {"values": [{"label": "K    +-"}]},
           "mark": {"type": "text", "align": "left", "fontSize": 8, "color": "#a050a8", "dx": 62, "dy": -3},
           "encoding": {"x": {"datum": "Temperature", "type": "nominal", "axis": null}, "y": {"datum": "L1", "type": "nominal", "axis": null}, "text": {"field": "label"}}},
          {"data": {"values": [{"label": "1"}]},
           "layer": [
             {"mark": {"type": "point", "shape": "M-1,-0.55L1,-0.55L1,0.55L-1,0.55Z", "size": 1089, "filled": true, "opacity": 1, "fill": "#ffffff", "stroke": "#adadad", "strokeWidth": 1},
              "encoding": {"x": {"datum": "Tolerance", "type": "nominal", "axis": null}, "y": {"datum": "L1", "type": "nominal", "axis": null}}},
             {"mark": {"type": "text", "fontSize": 10, "color": "#a050a8"},
              "encoding": {"x": {"datum": "Tolerance", "type": "nominal", "axis": null}, "y": {"datum": "L1", "type": "nominal", "axis": null}, "text": {"field": "label"}}}
           ]},
          {"data": {"values": [{"label": "K"}]},
           "mark": {"type": "text", "align": "left", "fontSize": 8, "color": "#a050a8", "dx": 24, "dy": -3},
           "encoding": {"x": {"datum": "Tolerance", "type": "nominal", "axis": null}, "y": {"datum": "L1", "type": "nominal", "axis": null}, "text": {"field": "label"}}},
          {"data": {"values": [{"label": "Literature Data from the file:"}]},
           "mark": {"type": "text", "fontSize": 10, "color": "#2a2aff"},
           "encoding": {"x": {"datum": "Actions", "type": "nominal", "axis": null}, "y": {"datum": "L2", "type": "nominal", "axis": null}, "text": {"field": "label"}}},
          {"data": {"values": [{"label": "Ar_LitData.txt"}]},
           "layer": [
             {"mark": {"type": "point", "shape": "M-1,-0.1125L1,-0.1125L1,0.1125L-1,0.1125Z", "size": 25600, "filled": true, "opacity": 1, "fill": "#ffffff", "stroke": "#adadad", "strokeWidth": 1, "xOffset": 64},
              "encoding": {"x": {"datum": "Temperature", "type": "nominal", "axis": null}, "y": {"datum": "L2", "type": "nominal", "axis": null}}},
             {"mark": {"type": "text", "fontSize": 10, "color": "#2a2aff", "dx": 64},
              "encoding": {"x": {"datum": "Temperature", "type": "nominal", "axis": null}, "y": {"datum": "L2", "type": "nominal", "axis": null}, "text": {"field": "label"}}}
           ]},
          {"data": {"values": [{"label": "☐ Lit. Data"}]},
           "mark": {"type": "text", "align": "left", "fontSize": 8.5, "color": "#2a2aff", "dx": -16, "dy": -6},
           "encoding": {"x": {"datum": "Temperature", "type": "nominal", "axis": null}, "y": {"datum": "L3", "type": "nominal", "axis": null}, "text": {"field": "label"}}},
          {"data": {"values": [{"label": "☐ on the date:"}]},
           "mark": {"type": "text", "align": "left", "fontSize": 8.5, "color": "#2a2aff", "dx": -45, "dy": -6},
           "encoding": {"x": {"datum": "Tolerance", "type": "nominal", "axis": null}, "y": {"datum": "L3", "type": "nominal", "axis": null}, "text": {"field": "label"}}},
          {"data": {"values": [{"label": "☐ Primary data"}]},
           "mark": {"type": "text", "align": "left", "fontSize": 8.5, "color": "#30d8e0", "dx": -16, "dy": 11},
           "encoding": {"x": {"datum": "Temperature", "type": "nominal", "axis": null}, "y": {"datum": "L3", "type": "nominal", "axis": null}, "text": {"field": "label"}}},
          {"data": {"values": [{"label": "20/06/23"}]},
           "layer": [
             {"mark": {"type": "point", "shape": "M-1,-0.24L1,-0.24L1,0.24L-1,0.24Z", "size": 5625, "filled": true, "opacity": 1, "fill": "#ffffff", "stroke": "#adadad", "strokeWidth": 1, "yOffset": 11},
              "encoding": {"x": {"datum": "Tolerance", "type": "nominal", "axis": null}, "y": {"datum": "L3", "type": "nominal", "axis": null}}},
             {"mark": {"type": "text", "fontSize": 9, "color": "#111111", "dy": 11},
              "encoding": {"x": {"datum": "Tolerance", "type": "nominal", "axis": null}, "y": {"datum": "L3", "type": "nominal", "axis": null}, "text": {"field": "label"}}}
           ]},
          {"data": {"values": [{"label": "Gas"}]},
           "mark": {"type": "text", "fontSize": 8.5, "color": "#333333", "dx": 4, "dy": -6},
           "encoding": {"x": {"datum": "Gas", "type": "nominal", "axis": null}, "y": {"datum": "L1", "type": "nominal", "axis": null}, "text": {"field": "label"}}},
          {"data": {"values": [{"label": "☑ Ar"}]},
           "mark": {"type": "text", "align": "left", "fontSize": 9, "color": "#333333", "dx": -34, "dy": 13},
           "encoding": {"x": {"datum": "Gas", "type": "nominal", "axis": null}, "y": {"datum": "L1", "type": "nominal", "axis": null}, "text": {"field": "label"}}},
          {"data": {"values": [{"label": "☐ N₂"}]},
           "mark": {"type": "text", "align": "left", "fontSize": 9, "color": "#333333", "dx": 9, "dy": 13},
           "encoding": {"x": {"datum": "Gas", "type": "nominal", "axis": null}, "y": {"datum": "L1", "type": "nominal", "axis": null}, "text": {"field": "label"}}},
          {"data": {"values": [{"label": "☐ N₂O"}]},
           "mark": {"type": "text", "align": "left", "fontSize": 9, "color": "#333333", "dx": -34, "dy": 10},
           "encoding": {"x": {"datum": "Gas", "type": "nominal", "axis": null}, "y": {"datum": "L2", "type": "nominal", "axis": null}, "text": {"field": "label"}}},
          {"data": {"values": [{"label": "☐ CO₂"}]},
           "mark": {"type": "text", "align": "left", "fontSize": 9, "color": "#333333", "dx": 9, "dy": 10},
           "encoding": {"x": {"datum": "Gas", "type": "nominal", "axis": null}, "y": {"datum": "L2", "type": "nominal", "axis": null}, "text": {"field": "label"}}},
          {"data": {"values": [{"label": "☐ N₂⁵⁰% + CO₂"}]},
           "mark": {"type": "text", "align": "left", "fontSize": 8.5, "color": "#333333", "dx": -68, "dy": 4},
           "encoding": {"x": {"datum": "Views", "type": "nominal", "axis": null}, "y": {"datum": "L3", "type": "nominal", "axis": null}, "text": {"field": "label"}}},
          {"data": {"values": [{"label": "☐ N₂²⁵% + CO₂"}]},
           "mark": {"type": "text", "align": "left", "fontSize": 8.5, "color": "#333333", "dx": 7, "dy": 4},
           "encoding": {"x": {"datum": "Views", "type": "nominal", "axis": null}, "y": {"datum": "L3", "type": "nominal", "axis": null}, "text": {"field": "label"}}},
          {"data": {"values": [{"label": "☐ N₂⁷⁵% + CO₂"}]},
           "mark": {"type": "text", "align": "left", "fontSize": 8.5, "color": "#333333", "dx": -9, "dy": 4},
           "encoding": {"x": {"datum": "Gas", "type": "nominal", "axis": null}, "y": {"datum": "L3", "type": "nominal", "axis": null}, "text": {"field": "label"}}},
          {"data": {"values": [{"label": "☐ Air"}]},
           "mark": {"type": "text", "align": "left", "fontSize": 8.5, "color": "#333333", "dx": -68, "dy": -3},
           "encoding": {"x": {"datum": "Views", "type": "nominal", "axis": null}, "y": {"datum": "L4", "type": "nominal", "axis": null}, "text": {"field": "label"}}}
        ]}
     ], "spacing": 10}
   ], "spacing": 4}
 ], "spacing": 7}
],
"spacing": 7
}
